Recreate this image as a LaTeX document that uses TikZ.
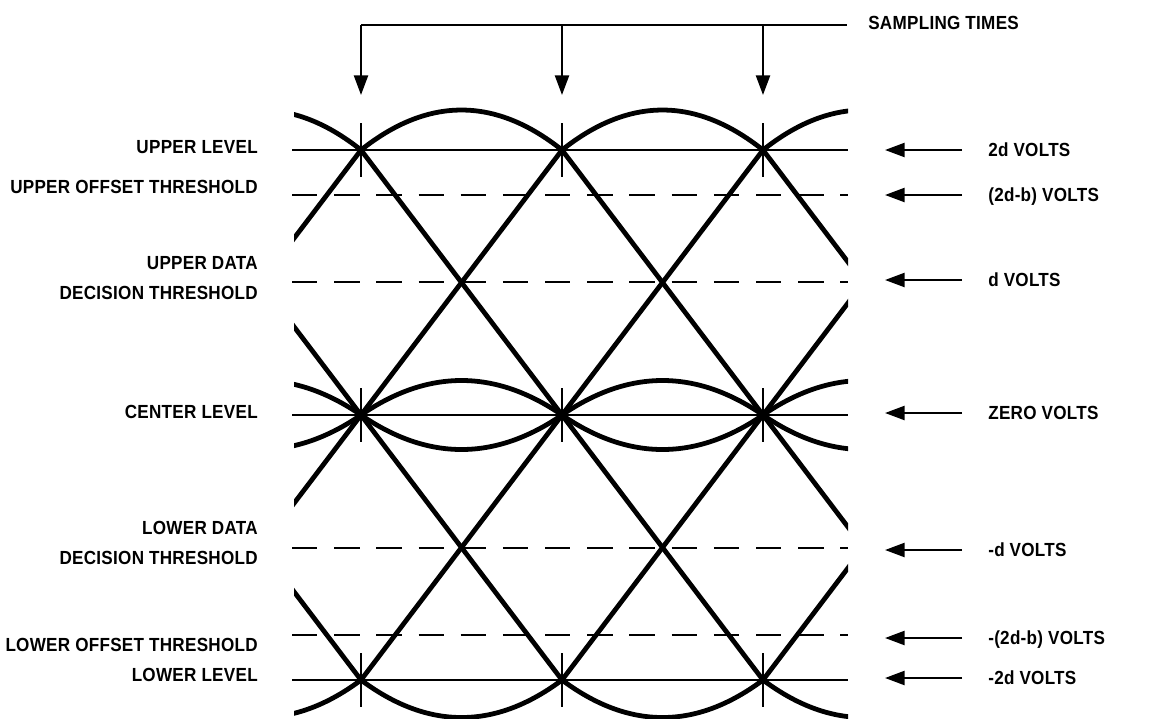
\documentclass[tikz,border=0pt]{standalone}
\usepackage{fontspec}
\setmainfont{Liberation Sans}[FakeStretch=0.9, LetterSpace=1.5]
\usetikzlibrary{arrows.meta}

\begin{document}
\begin{tikzpicture}[
    x=0.025cm, y=-0.025cm,
    font=\fontsize{13.5}{21}\selectfont\bfseries,
    wave/.style={line width=3.4pt, line cap=round, line join=round},
    level/.style={line width=1.9pt},
    thresh/.style={line width=1.9pt, dash pattern=on 18pt off 12pt},
    tick/.style={line width=1.4pt},
    sampline/.style={line width=2pt},
    sampar/.style={line width=1.6pt, -{Triangle[length=14pt,width=10pt]}},
    voltar/.style={line width=1.6pt, -{Triangle[length=14pt,width=10pt]}},
    leftlbl/.style={anchor=east, align=right, inner sep=0pt},
    rightlbl/.style={anchor=west, inner sep=0pt, text height=9.7pt, text depth=0pt}
]
\useasboundingbox (0,0) rectangle (1151,718);

% sampling times
\coordinate (top0) at (361,25);
\coordinate (topend) at (847,25);
\draw[sampline] (top0) -- (topend);
\node[anchor=west, inner sep=0pt] (samp) at (868,23) {SAMPLING TIMES};
\foreach \t [count=\i] in {361,562,763} {
  \coordinate (t\i) at (\t,25);
  \coordinate (s\i) at (\t,95);
  \draw[sampar] (t\i) -- (s\i);
}

% level and threshold lines
\draw[level] (292,150) -- (848,150);
\draw[thresh] (292,195) -- (848,195);
\draw[thresh] (292,282) -- (848,282);
\draw[level] (292,415) -- (848,415);
\draw[thresh] (292,548) -- (848,548);
\draw[thresh] (292,635) -- (848,635);
\draw[level] (292,680) -- (848,680);

\foreach \t in {361,562,763}
  \foreach \l in {150,415,680}
    \draw[tick] (\t,\l-27) -- (\t,\l+27);

% eye pattern
\begin{scope}
\clip (294,0) rectangle (848,718);
\foreach \x in {160,361,562,763} {
  \draw[wave] (\x,150) .. controls (\x+67,96.7) and (\x+134,96.7) .. (\x+201,150);
  \draw[wave] (\x,415) .. controls (\x+67,369) and (\x+134,369) .. (\x+201,415);
  \draw[wave] (\x,415) .. controls (\x+67,461) and (\x+134,461) .. (\x+201,415);
  \draw[wave] (\x,680) .. controls (\x+67,730) and (\x+134,730) .. (\x+201,680);
  \draw[wave] (\x,150) -- (\x+201,415);
  \draw[wave] (\x,415) -- (\x+201,150);
  \draw[wave] (\x,415) -- (\x+201,680);
  \draw[wave] (\x,680) -- (\x+201,415);
}
\end{scope}

% left labels
\node[leftlbl] (upl) at (258,147) {UPPER LEVEL};
\node[leftlbl] (upoff) at (258,187) {UPPER OFFSET THRESHOLD};
\node[leftlbl] (updat) at (258,278) {UPPER DATA\\DECISION THRESHOLD};
\node[leftlbl] (cen) at (258,412) {CENTER LEVEL};
\node[leftlbl] (lodat) at (258,543) {LOWER DATA\\DECISION THRESHOLD};
\node[leftlbl] (looff) at (258,645) {LOWER OFFSET THRESHOLD};
\node[leftlbl] (lol) at (258,675) {LOWER LEVEL};

% right arrows and voltages
\foreach \y/\n/\txt in {150/a/2d VOLTS, 195/b/(2d-b) VOLTS, 280/c/d VOLTS,
    413/d/ZERO VOLTS, 550/e/-d VOLTS, 638/f/-(2d-b) VOLTS, 678/g/-2d VOLTS} {
  \coordinate (rt\n) at (962,\y);
  \coordinate (rh\n) at (885,\y);
  \draw[voltar] (rt\n) -- (rh\n);
  \node[rightlbl] (v\n) at (988,\y) {\txt};
}

\end{tikzpicture}
\end{document}
